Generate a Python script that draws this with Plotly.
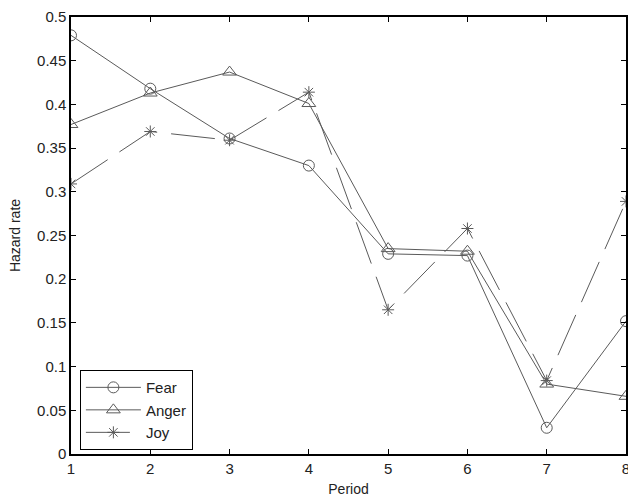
import plotly.graph_objects as go

periods = [1, 2, 3, 4, 5, 6, 7, 8]
fear = [0.479, 0.418, 0.361, 0.330, 0.229, 0.227, 0.030, 0.152]
anger = [0.377, 0.413, 0.437, 0.401, 0.235, 0.232, 0.080, 0.066]
joy = [0.309, 0.369, 0.359, 0.414, 0.165, 0.258, 0.084, 0.289]
y_ticks = [0, 0.05, 0.1, 0.15, 0.2, 0.25, 0.3, 0.35, 0.4, 0.45, 0.5]
y_tick_text = ["0", "0.05", "0.1", "0.15", "0.2", "0.25", "0.3", "0.35", "0.4", "0.45", "0.5"]

col = "#5a5a5a"
fig = go.Figure()
fig.add_trace(go.Scatter(x=periods, y=fear, name="Fear", mode="lines+markers",
                         line=dict(color=col, width=1),
                         marker=dict(symbol="circle-open", size=11, color=col, line=dict(width=1))))
fig.add_trace(go.Scatter(x=periods, y=anger, name="Anger", mode="lines+markers",
                         line=dict(color=col, width=1),
                         marker=dict(symbol="triangle-up-open", size=12, color=col, line=dict(width=1))))
fig.add_trace(go.Scatter(x=periods, y=joy, name="Joy", mode="lines+markers",
                         line=dict(color=col, width=1, dash="44px,14px"),
                         marker=dict(symbol="asterisk-open", size=10, color=col, line=dict(width=1, color=col))))

axis_common = dict(showline=True, linecolor="black", linewidth=1.5, mirror="ticks",
                   ticks="inside", ticklen=5, tickcolor="black", showgrid=False, zeroline=False,
                   automargin=False, ticklabeloverflow="allow", tickfont=dict(size=15, color="#222"))
fig.update_layout(
    width=628, height=497,
    margin=dict(l=71, r=2, t=17, b=43),
    paper_bgcolor="white", plot_bgcolor="white",
    font=dict(family="Liberation Sans, Arial, sans-serif", color="#222"),
    xaxis=dict(range=[1, 8], tickvals=periods, title=dict(text="Period", font=dict(size=14), standoff=8),
               **axis_common),
    yaxis=dict(range=[0, 0.5], tickvals=y_ticks, ticktext=y_tick_text,
               title=dict(text="Hazard rate", font=dict(size=14), standoff=13), **axis_common),
    legend=dict(x=0.016, y=0.192, xanchor="left", yanchor="top", bordercolor="black", borderwidth=1,
                bgcolor="white", font=dict(size=15, color="#222"), itemwidth=55, tracegroupgap=0),
    showlegend=True,
)
fig.write_html("out.html", config={"displayModeBar": False},
               post_script="document.body.style.margin='0';document.body.style.overflow='hidden';")
